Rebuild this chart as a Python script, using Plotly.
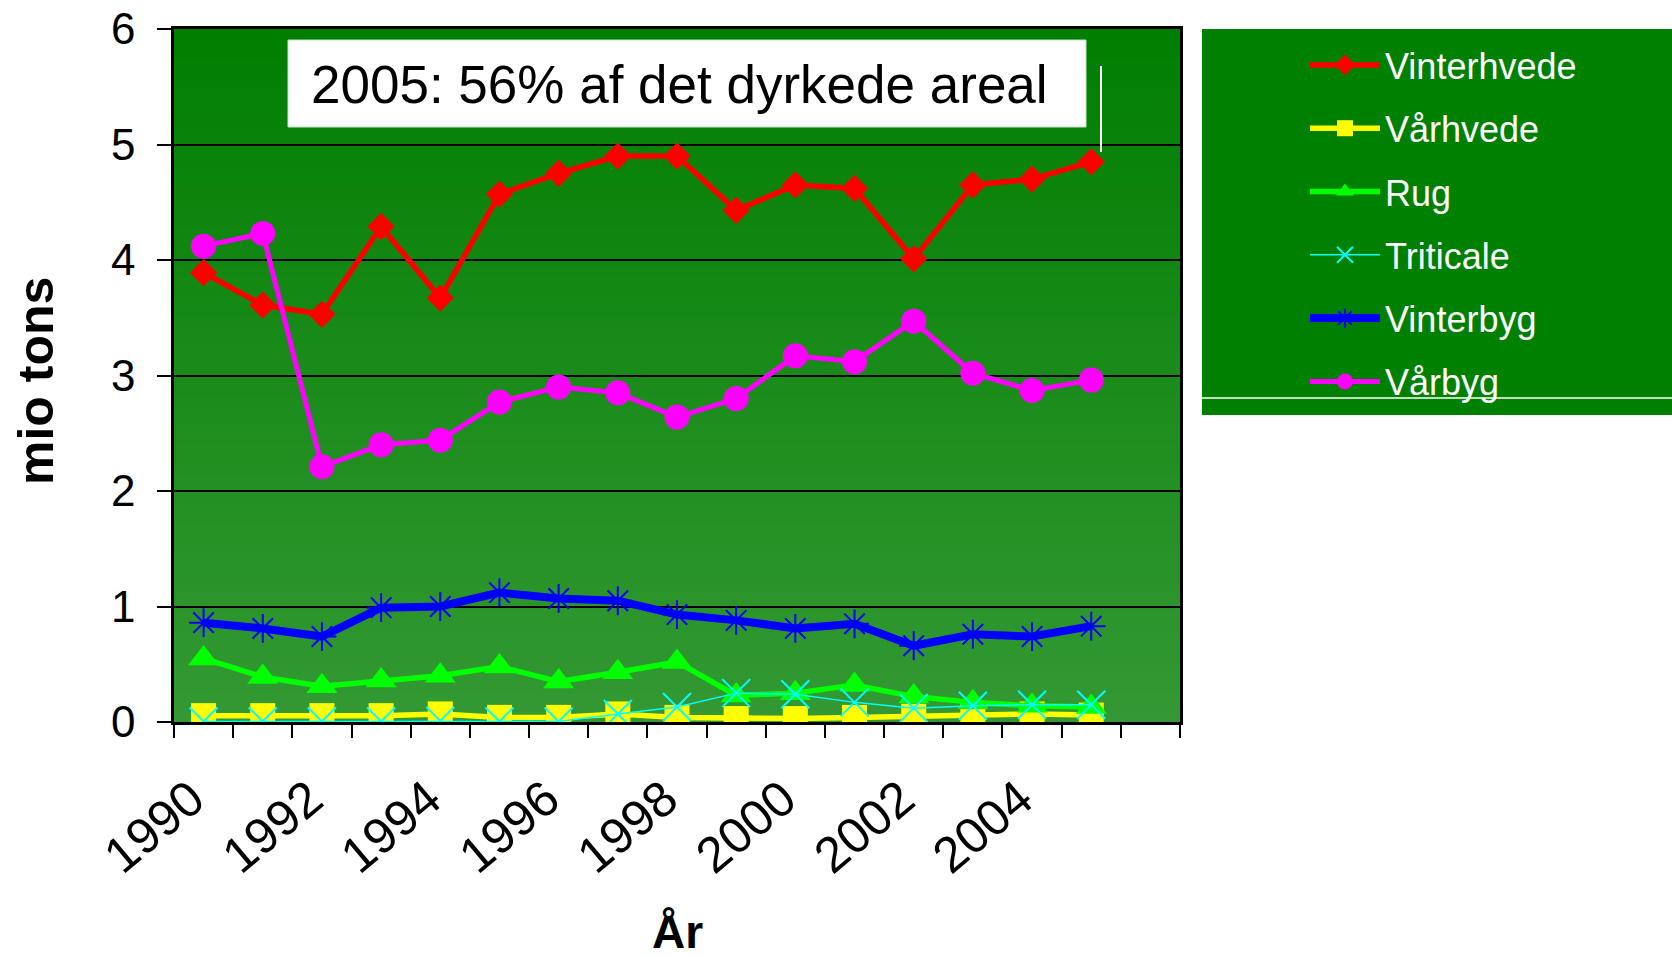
import plotly.graph_objects as go

# ---------------- data ----------------
years = list(range(1990, 2006))
vinterhvede = [3.89, 3.61, 3.53, 4.29, 3.67, 4.57, 4.75, 4.90, 4.90, 4.43, 4.65, 4.62, 4.01, 4.65, 4.70, 4.85]
vaarhvede = [0.055, 0.055, 0.055, 0.055, 0.07, 0.04, 0.04, 0.07, 0.04, 0.03, 0.03, 0.04, 0.05, 0.06, 0.07, 0.06]
rug = [0.55, 0.39, 0.31, 0.36, 0.40, 0.48, 0.35, 0.43, 0.52, 0.23, 0.25, 0.32, 0.22, 0.17, 0.14, 0.13]
triticale = [0.005, 0.005, 0.005, 0.005, 0.01, 0.005, 0.005, 0.07, 0.13, 0.25, 0.24, 0.17, 0.12, 0.14, 0.15, 0.15]
vinterbyg = [0.86, 0.81, 0.74, 0.99, 1.00, 1.12, 1.07, 1.05, 0.93, 0.88, 0.81, 0.85, 0.66, 0.76, 0.74, 0.83]
vaarbyg = [4.12, 4.23, 2.21, 2.40, 2.44, 2.77, 2.90, 2.85, 2.64, 2.80, 3.17, 3.12, 3.47, 3.02, 2.87, 2.96]

series_names = ["Vinterhvede", "Vårhvede", "Rug", "Triticale", "Vinterbyg", "Vårbyg"]
tick_years = [1990, 1992, 1994, 1996, 1998, 2000, 2002, 2004]
tick_labels = [str(y) for y in tick_years]
y_ticks = [0, 1, 2, 3, 4, 5, 6]
annotation_text = "2005: 56% af det dyrkede areal"
x_title = "År"
y_title = "mio tons"

# ---------------- layout geometry ----------------
W, H = 1672, 958
OFF = 0  # page body margin removed via post_script
ML, MR, MT, MB = 174, 492, 29, 236
PW = W - ML - MR
PH = H - MT - MB


def xp(sx):
    return (sx - OFF - ML) / PW


def yp(sy):
    return (H - MB - (sy - OFF)) / PH


FONT = "Liberation Sans, Arial, sans-serif"

styles = [
    dict(color="#FF0000", width=5.5, symbol="diamond", size=21, lw=0),
    dict(color="#FFFF00", width=5.5, symbol="square", size=25, lw=0),
    dict(color="#00FF00", width=5.5, symbol="triangle-up", size=27, lw=0),
    dict(color="#00FFFF", width=1.5, symbol="x-thin", size=28, lw=2),
    dict(color="#0000FF", width=8, symbol="asterisk", size=24, lw=2),
    dict(color="#FF00FF", width=5, symbol="circle", size=25, lw=0),
]
values = [vinterhvede, vaarhvede, rug, triticale, vinterbyg, vaarbyg]

fig = go.Figure()
for i, (name, vals, st) in enumerate(zip(series_names, values, styles)):
    fig.add_trace(go.Scatter(
        x=years, y=vals, name=name, mode="lines+markers",
        legendgroup=f"g{i}",
        line=dict(color=st["color"], width=st["width"]),
        marker=dict(symbol=st["symbol"], size=st["size"], color=st["color"],
                    line=dict(color=st["color"], width=st["lw"])),
    ))

shapes = []
# gradient plot background
n = 70
top = (0, 126, 0)
bot = (52, 153, 52)
for k in range(n):
    t = (k + 0.5) / n
    c = tuple(round(bot[j] + (top[j] - bot[j]) * t) for j in range(3))
    shapes.append(dict(type="rect", xref="x domain", yref="y domain",
                       x0=0, x1=1, y0=k / n, y1=(k + 1) / n + 0.002,
                       fillcolor=f"rgb{c}", line=dict(width=0), layer="below"))
# legend background
shapes.append(dict(type="rect", xref="paper", yref="paper",
                   x0=xp(1202), x1=xp(1720), y0=yp(415), y1=yp(29),
                   fillcolor="#008000", line=dict(width=0), layer="below"))
shapes.append(dict(type="line", xref="paper", yref="paper",
                   x0=xp(1202), x1=xp(1720), y0=yp(398), y1=yp(398),
                   line=dict(color="white", width=1.5), layer="above"))
# annotation box
shapes.append(dict(type="rect", xref="paper", yref="paper",
                   x0=xp(288), x1=xp(1086), y0=yp(127), y1=yp(40),
                   fillcolor="white", line=dict(color="#c8e0c8", width=1), layer="above"))
# thin white marker line
shapes.append(dict(type="line", xref="paper", yref="paper",
                   x0=xp(1101), x1=xp(1101), y0=yp(152), y1=yp(66),
                   line=dict(color="white", width=2), layer="above"))

fig.update_layout(
    width=W, height=H,
    margin=dict(l=ML, r=MR, t=MT, b=MB, pad=0, autoexpand=False),
    paper_bgcolor="white",
    plot_bgcolor="rgba(0,0,0,0)",
    font=dict(family=FONT, color="black"),
    shapes=shapes,
    showlegend=True,
    legend=dict(
        x=xp(1305), y=yp(35), xanchor="left", yanchor="top",
        bgcolor="rgba(0,0,0,0)", borderwidth=0,
        font=dict(family=FONT, size=36, color="white"),
        tracegroupgap=13.5, itemwidth=70, traceorder="grouped",
    ),
    annotations=[
        dict(text=annotation_text, xref="paper", yref="paper",
             x=xp(309), y=yp(84), xanchor="left", yanchor="middle",
             showarrow=False, font=dict(family=FONT, size=53, color="black")),
        dict(text=f"<b>{y_title}</b>", xref="paper", yref="paper",
             x=xp(36), y=yp(381), xanchor="center", yanchor="middle", textangle=-90,
             showarrow=False, font=dict(family=FONT, size=50, color="black")),
        dict(text=f"<b>{x_title}</b>", xref="paper", yref="paper",
             x=xp(677), y=yp(932), xanchor="center", yanchor="middle",
             showarrow=False, font=dict(family=FONT, size=46, color="black")),
    ],
    xaxis=dict(
        automargin=False,
        range=[1989.5, 2006.5],
        tickmode="array", tickvals=tick_years, ticktext=tick_labels,
        ticks="", tickangle=-40,
        tickfont=dict(family=FONT, size=50, color="black"),
        ticklabelstandoff=25, ticklabelshift=-12,
        ticklabeloverflow="allow",
        minor=dict(tickmode="array", tickvals=[1989.5 + k for k in range(18)],
                   ticks="outside", ticklen=13, tickwidth=2, tickcolor="black",
                   showgrid=False),
        showgrid=False, zeroline=False,
        showline=True, linecolor="black", linewidth=2.5, mirror=True,
    ),
    yaxis=dict(
        automargin=False,
        range=[0, 6],
        tickmode="array", tickvals=y_ticks, ticktext=[str(v) for v in y_ticks],
        ticks="outside", ticklen=14, tickwidth=2, tickcolor="black",
        tickfont=dict(family=FONT, size=44, color="black"),
        ticklabelstandoff=13,
        ticklabeloverflow="allow",
        showgrid=True, gridcolor="black", gridwidth=2,
        zeroline=False,
        showline=True, linecolor="black", linewidth=2.5, mirror=True,
    ),
)

fig.write_html("out.html", config={"displayModeBar": False},
               post_script="document.body.style.margin='0px';")
